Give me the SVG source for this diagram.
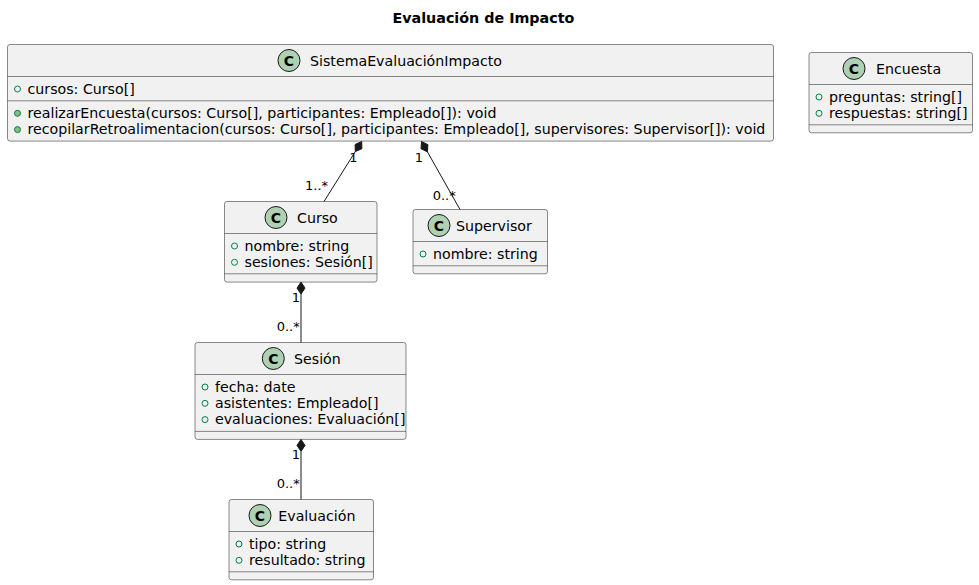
<svg xmlns="http://www.w3.org/2000/svg" width="979" height="585" viewBox="0 0 979 585">
<style>
text{font-family:"DejaVu Sans","Noto Sans",sans-serif;fill:#000000}
.title{font-size:14.3px;font-weight:bold}
.name{font-size:14.2px}
.attr{font-size:14.2px}
.lbl{font-size:13px}
.box{fill:#F1F1F1;stroke:#181818;stroke-width:0.5}
.sep{stroke:#181818;stroke-width:0.5}
.ico{fill:#ADD1B2;stroke:#181818;stroke-width:1}
.icot{font-size:14px;font-weight:bold;text-anchor:middle}
.fld{fill:none;stroke:#038048;stroke-width:1}
.mth{fill:#84BE84;stroke:#038048;stroke-width:1}
.edge{stroke:#181818;stroke-width:1;fill:none}
.dia{fill:#181818;stroke:#181818;stroke-width:1}
</style>
<text class="title" x="483.4" y="23" text-anchor="middle">Evaluación de Impacto</text>

<g id="SistemaEvaluacionImpacto">
<rect class="box" x="7.5" y="44.5" width="766" height="96.6" rx="2.5"/>
<line class="sep" x1="7.5" y1="76.5" x2="773.5" y2="76.5"/>
<line class="sep" x1="7.5" y1="100.8" x2="773.5" y2="100.8"/>
<circle class="ico" cx="289" cy="60.5" r="11"/>
<text class="icot" x="289" y="65.5">C</text>
<text class="name" x="310" y="65.5">SistemaEvaluaciónImpacto</text>
<circle class="fld" cx="17.5" cy="89" r="3"/>
<text class="attr" x="27.5" y="93.5">cursos: Curso[]</text>
<circle class="mth" cx="17.5" cy="113.3" r="3"/>
<text class="attr" x="27.5" y="117.8">realizarEncuesta(cursos: Curso[], participantes: Empleado[]): void</text>
<circle class="mth" cx="17.5" cy="129.6" r="3"/>
<text class="attr" x="27.5" y="134.1">recopilarRetroalimentacion(cursos: Curso[], participantes: Empleado[], supervisores: Supervisor[]): void</text>
</g>

<g id="Encuesta">
<rect class="box" x="809" y="52.5" width="163.5" height="80.3" rx="2.5"/>
<line class="sep" x1="809" y1="84.5" x2="972.5" y2="84.5"/>
<line class="sep" x1="809" y1="124.8" x2="972.5" y2="124.8"/>
<circle class="ico" cx="854" cy="68.5" r="11"/>
<text class="icot" x="854" y="73.5">C</text>
<text class="name" x="876" y="73.5">Encuesta</text>
<circle class="fld" cx="819" cy="97" r="3"/>
<text class="attr" x="829" y="101.5">preguntas: string[]</text>
<circle class="fld" cx="819" cy="113.3" r="3"/>
<text class="attr" x="829" y="117.8">respuestas: string[]</text>
</g>

<g id="Curso">
<rect class="box" x="224.5" y="201.5" width="152.5" height="80.6" rx="2.5"/>
<line class="sep" x1="224.5" y1="233.5" x2="377" y2="233.5"/>
<line class="sep" x1="224.5" y1="273.8" x2="377" y2="273.8"/>
<circle class="ico" cx="276" cy="217.5" r="11"/>
<text class="icot" x="276" y="222.5">C</text>
<text class="name" x="297" y="222.5">Curso</text>
<circle class="fld" cx="234.5" cy="246" r="3"/>
<text class="attr" x="244.5" y="250.5">nombre: string</text>
<circle class="fld" cx="234.5" cy="262.3" r="3"/>
<text class="attr" x="244.5" y="266.8">sesiones: Sesión[]</text>
</g>

<g id="Supervisor">
<rect class="box" x="413" y="209.5" width="134.5" height="64.3" rx="2.5"/>
<line class="sep" x1="413" y1="241.5" x2="547.5" y2="241.5"/>
<line class="sep" x1="413" y1="265.8" x2="547.5" y2="265.8"/>
<circle class="ico" cx="439" cy="225.5" r="11"/>
<text class="icot" x="439" y="230.5">C</text>
<text class="name" x="456" y="230.5">Supervisor</text>
<circle class="fld" cx="423" cy="254" r="3"/>
<text class="attr" x="433" y="258.5">nombre: string</text>
</g>

<g id="Sesion">
<rect class="box" x="195" y="342.5" width="211" height="96.9" rx="2.5"/>
<line class="sep" x1="195" y1="374.5" x2="406" y2="374.5"/>
<line class="sep" x1="195" y1="431.4" x2="406" y2="431.4"/>
<circle class="ico" cx="273.3" cy="358.5" r="11"/>
<text class="icot" x="273.3" y="363.5">C</text>
<text class="name" x="294" y="363.5">Sesión</text>
<circle class="fld" cx="205" cy="387" r="3"/>
<text class="attr" x="215" y="391.5">fecha: date</text>
<circle class="fld" cx="205" cy="403.3" r="3"/>
<text class="attr" x="215" y="407.8">asistentes: Empleado[]</text>
<circle class="fld" cx="205" cy="419.6" r="3"/>
<text class="attr" x="215" y="424.1">evaluaciones: Evaluación[]</text>
</g>

<g id="Evaluacion">
<rect class="box" x="229" y="499.5" width="144.5" height="80.3" rx="2.5"/>
<line class="sep" x1="229" y1="531.5" x2="373.5" y2="531.5"/>
<line class="sep" x1="229" y1="571.8" x2="373.5" y2="571.8"/>
<circle class="ico" cx="260" cy="515.5" r="11"/>
<text class="icot" x="260" y="520.5">C</text>
<text class="name" x="278.3" y="520.5">Evaluación</text>
<circle class="fld" cx="239" cy="544" r="3"/>
<text class="attr" x="249" y="548.5">tipo: string</text>
<circle class="fld" cx="239" cy="560.3" r="3"/>
<text class="attr" x="249" y="564.8">resultado: string</text>
</g>

<g id="connectors">
<path class="edge" d="M355.3,151.6 L324,201.5"/>
<polygon class="dia" points="361.7,141.5 361.9,148.7 355.3,151.6 355.1,144.5"/>
<text class="lbl" x="353.3" y="161.5" text-anchor="middle">1</text>
<text class="lbl" x="305" y="189.5">1..*</text>

<path class="edge" d="M427.45,151.9 L460,209.5"/>
<polygon class="dia" points="421.5,141.5 427.9,144.7 427.45,151.9 421,148.7"/>
<text class="lbl" x="419" y="161.5" text-anchor="middle">1</text>
<text class="lbl" x="432.7" y="199.5">0..*</text>

<path class="edge" d="M301,294.1 L301,342.5"/>
<polygon class="dia" points="301,282.1 305,288.1 301,294.1 297,288.1"/>
<text class="lbl" x="296" y="302" text-anchor="middle">1</text>
<text class="lbl" x="276.7" y="331">0..*</text>

<path class="edge" d="M301,451.4 L301,499.5"/>
<polygon class="dia" points="301,439.4 305,445.4 301,451.4 297,445.4"/>
<text class="lbl" x="296" y="458.5" text-anchor="middle">1</text>
<text class="lbl" x="276.7" y="488">0..*</text>
</g>
</svg>
